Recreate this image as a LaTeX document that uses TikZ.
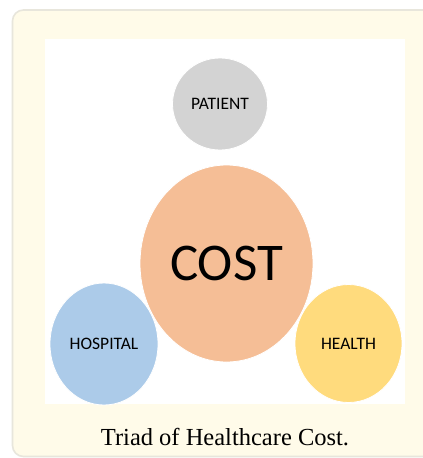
\documentclass[tikz,border=0pt]{standalone}
\usepackage{fontspec}
\setmainfont{Liberation Serif}
\newfontfamily\labelfont{Carlito}
\usetikzlibrary{shapes.geometric}
\definecolor{panelfill}{RGB}{255,251,233}
\definecolor{panelline}{RGB}{232,230,220}
\definecolor{patientc}{RGB}{211,211,211}
\definecolor{costc}{RGB}{245,190,150}
\definecolor{hospc}{RGB}{172,203,233}
\definecolor{healthc}{RGB}{255,219,125}
\tikzset{
  blob/.style={ellipse, inner sep=0pt, draw=white, line width=0.8pt, text=black,
    font=\labelfont\fontsize{17.5}{20}\selectfont},
}
\begin{document}
\begin{tikzpicture}[x=1pt,y=-1pt]
\useasboundingbox (0,0) rectangle (423,458);
\clip (0,0) rectangle (423,458);
\fill[white] (0,0) rectangle (423,458);
\draw[fill=panelfill, draw=panelline, line width=1.6pt, rounded corners=11pt] (12.5,10) rectangle (445,456.5);
\fill[white] (45,39) rectangle (405,404);
\node[blob, fill=patientc, minimum width=95pt, minimum height=92pt] (patient) at (220,104) {PATIENT};
\node[blob, fill=costc, minimum width=173pt, minimum height=197pt, font=\labelfont\fontsize{53}{56}\selectfont] (cost) at (226.5,263.5) {COST};
\node[blob, fill=hospc, minimum width=108pt, minimum height=122pt] (hospital) at (104,344) {HOSPITAL};
\node[blob, fill=healthc, minimum width=107pt, minimum height=118pt] (health) at (348.5,343.5) {HEALTH};
\node[font=\fontsize{24.5}{28}\selectfont, anchor=base] (caption) at (225,445) {Triad of Healthcare Cost.};
\end{tikzpicture}
\end{document}
